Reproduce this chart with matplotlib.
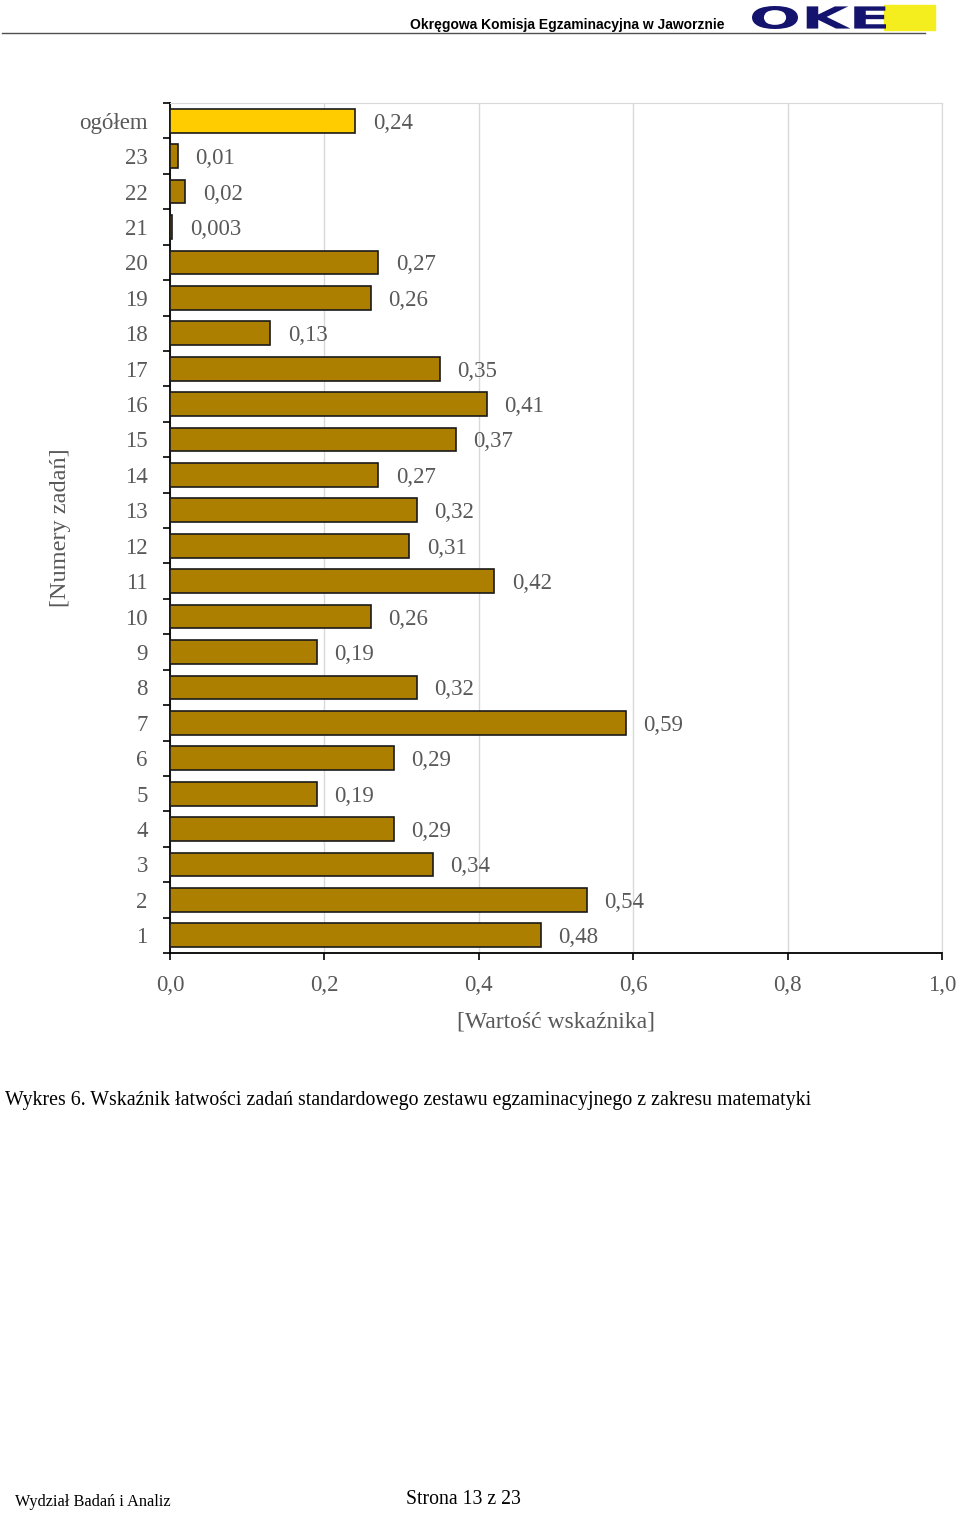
"""
Wykres 6 - wskaźnik łatwości zadań (słupki poziome).
"""

import numpy as np
import matplotlib.pyplot as plt
from matplotlib.patches import Rectangle, PathPatch
from matplotlib.textpath import TextPath
from matplotlib.font_manager import FontProperties
from matplotlib.transforms import Affine2D

# dane: od zadania 1 do 23, na końcu "ogółem"
categories = [str(i) for i in range(1, 24)] + ['ogółem']
values = [0.48, 0.54, 0.34, 0.29, 0.19, 0.29, 0.59, 0.32, 0.19, 0.26,
          0.42, 0.31, 0.32, 0.27, 0.37, 0.41, 0.35, 0.13, 0.26, 0.27,
          0.003, 0.02, 0.01, 0.24]
value_labels = ['0,48', '0,54', '0,34', '0,29', '0,19', '0,29', '0,59', '0,32',
                '0,19', '0,26', '0,42', '0,31', '0,32', '0,27', '0,37', '0,41',
                '0,35', '0,13', '0,26', '0,27', '0,003', '0,02', '0,01', '0,24']
x_ticks = [0.0, 0.2, 0.4, 0.6, 0.8, 1.0]
x_tick_labels = ['0,0', '0,2', '0,4', '0,6', '0,8', '1,0']

BAR_COLOR = '#AD7F00'
TOTAL_COLOR = '#FFCC00'
TEXT_GRAY = '#595959'
SERIF = 'Liberation Serif'
W, H = 960, 1513


def fx(px):
    return px / W


def fy(py):
    return 1 - py / H


fig = plt.figure(figsize=(9.6, 15.13), dpi=100)
ax = fig.add_axes([0.1771, 0.3701, 0.8042, 0.5618])

y = np.arange(len(categories))
colors = [BAR_COLOR] * (len(categories) - 1) + [TOTAL_COLOR]
ax.barh(y, values, height=0.67, color=colors, edgecolor='#1a1a1a',
        linewidth=1.2, zorder=3)

for yi, v, lab in zip(y, values, value_labels):
    ax.annotate(lab, (v, yi), xytext=(12.5, 0), textcoords='offset points',
                ha='left', va='center_baseline', fontsize=16.5, family=SERIF,
                color=TEXT_GRAY)

ax.set_xlim(0, 1.0)
ax.set_ylim(-0.5, len(categories) - 0.5)

ax.set_xticks(x_ticks)
ax.set_xticklabels(x_tick_labels, fontsize=16.5, family=SERIF, color=TEXT_GRAY)
ax.tick_params(axis='x', direction='out', length=5, width=1.2,
               color='black', pad=11)

ax.set_yticks(y)
ax.set_yticklabels(categories, fontsize=16.5, family=SERIF, color=TEXT_GRAY,
                   va='center_baseline')
ax.tick_params(axis='y', which='major', length=0, pad=16)
ax.set_yticks(np.arange(-0.5, len(categories)), minor=True)
ax.tick_params(axis='y', which='minor', direction='out', length=5,
               width=1.2, color='black')

ax.grid(axis='x', color='#d9d9d9', linewidth=1, zorder=0)
ax.spines['left'].set_color('black')
ax.spines['left'].set_linewidth(1.3)
ax.spines['bottom'].set_color('black')
ax.spines['bottom'].set_linewidth(1.3)
ax.spines['top'].set_color('#d9d9d9')
ax.spines['right'].set_color('#d9d9d9')

ax.set_xlabel('[Wartość wskaźnika]', fontsize=17, family=SERIF,
              color=TEXT_GRAY, labelpad=11)
ax.set_ylabel('[Numery zadań]', fontsize=17.5, family=SERIF,
              color=TEXT_GRAY, labelpad=6)

# nagłówek strony
fig.text(fx(410), fy(25), 'Okręgowa Komisja Egzaminacyjna w Jaworznie',
         fontsize=10, fontweight='bold', family='Liberation Sans',
         ha='left', va='center', color='black')
fig.add_artist(plt.Line2D([fx(2), fx(925)], [fy(33)] * 2,
                          color='#505050', linewidth=1))

# logo OKE: żółty prostokąt + litery rozciągnięte do ramki
fig.add_artist(Rectangle((fx(884), fy(30)), fx(935) - fx(884), fy(5) - fy(30),
                         transform=fig.transFigure, color='#F5EE1E',
                         zorder=1))
tp = TextPath((0, 0), 'OKE', size=1,
              prop=FontProperties(family='DejaVu Sans', weight='heavy'))
ext = tp.get_extents()
x0, x1, y0, y1 = fx(752), fx(886), fy(29), fy(6)
tr = (Affine2D().translate(-ext.x0, -ext.y0)
      .scale((x1 - x0) / ext.width, (y1 - y0) / ext.height)
      .translate(x0, y0) + fig.transFigure)
fig.add_artist(PathPatch(tp, transform=tr, color='#14146E', lw=0, zorder=2))

# podpis wykresu
fig.text(fx(5), fy(1101),
         'Wykres 6. Wskaźnik łatwości zadań standardowego zestawu '
         'egzaminacyjnego z zakresu matematyki',
         fontsize=14.3, family=SERIF, ha='left', va='center', color='black')

# stopka
fig.text(fx(15), fy(1502), 'Wydział Badań i Analiz', fontsize=11.7,
         family=SERIF, ha='left', va='center', color='black')
fig.text(fx(406), fy(1500), 'Strona 13 z 23', fontsize=14.2,
         family=SERIF, ha='left', va='center', color='black')

fig.savefig('out.png', dpi=100)
